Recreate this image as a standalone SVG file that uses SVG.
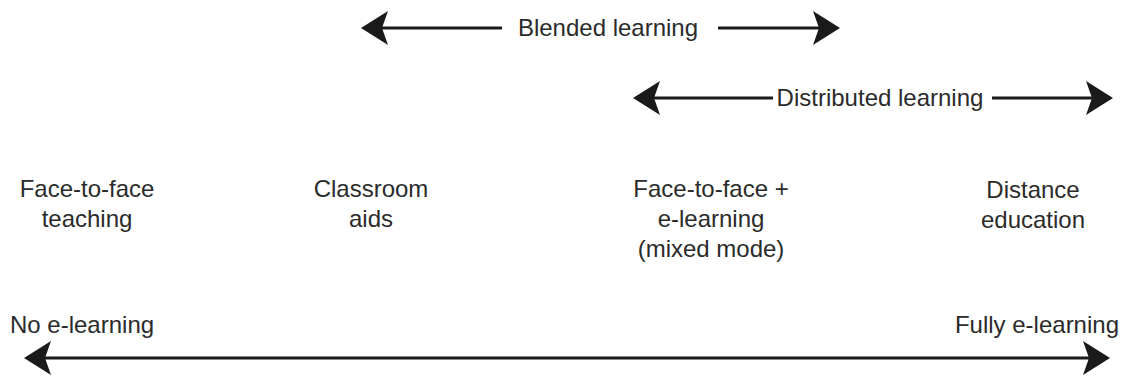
<svg xmlns="http://www.w3.org/2000/svg" width="1126" height="377" viewBox="0 0 1126 377">
<style>
text{font-family:"Liberation Sans",Arial,sans-serif;font-size:24px;fill:#2b2b2b}
.m{text-anchor:middle}
.ln{stroke:#1a1a1a;stroke-width:3;fill:none}
.hd{fill:#1a1a1a}
</style>
<defs>
<path id="hL" class="hd" d="M0,0 L27,-17 L21,0 L27,17 Z"/>
<path id="hR" class="hd" d="M0,0 L-27,-17 L-21,0 L-27,17 Z"/>
</defs>
<rect width="1126" height="377" fill="#fff"/>
<g id="connectors">
<g id="blended">
<line class="ln" x1="380" y1="28" x2="502" y2="28"/>
<line class="ln" x1="718" y1="28" x2="820" y2="28"/>
<use href="#hL" x="361" y="28"/>
<use href="#hR" x="840" y="28"/>
</g>
<g id="distributed">
<line class="ln" x1="652" y1="98" x2="773" y2="98"/>
<line class="ln" x1="992" y1="98" x2="1094" y2="98"/>
<use href="#hL" x="633" y="98"/>
<use href="#hR" x="1113" y="98"/>
</g>
<g id="scale">
<line class="ln" x1="44" y1="358" x2="1090" y2="358"/>
<use href="#hL" x="24" y="358"/>
<use href="#hR" x="1110" y="358"/>
</g>
</g>
<text x="608" y="36" class="m">Blended learning</text>
<text x="880" y="106" class="m">Distributed learning</text>
<g id="n1"><text x="87" y="197" class="m">Face-to-face</text><text x="87" y="227" class="m">teaching</text></g>
<g id="n2"><text x="371" y="197" class="m">Classroom</text><text x="371" y="227" class="m">aids</text></g>
<g id="n3"><text x="711" y="197" class="m">Face-to-face +</text><text x="711" y="227" class="m">e-learning</text><text x="711" y="257" class="m">(mixed mode)</text></g>
<g id="n4"><text x="1033" y="198" class="m">Distance</text><text x="1033" y="228" class="m">education</text></g>
<text x="10" y="333">No e-learning</text>
<text x="1119" y="333" text-anchor="end">Fully e-learning</text>
</svg>
